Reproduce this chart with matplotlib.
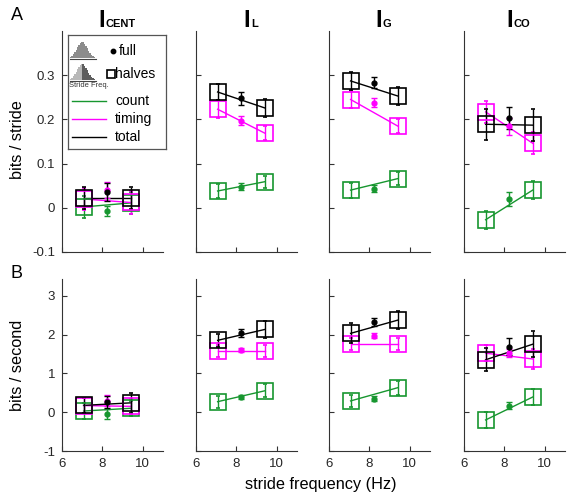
import matplotlib
matplotlib.use('Agg')
import matplotlib.pyplot as plt

plt.rcParams['font.family'] = ['Liberation Sans', 'DejaVu Sans']
plt.rcParams['axes.unicode_minus'] = False

# ---- data --------------------------------------------------------
panel_names = ['CENT', 'L', 'G', 'CO']
x_halves = [7.07, 9.4]
x_full = 8.22

# row A : bits / stride
stride_count_halves = [[0.002, 0.011], [0.038, 0.059], [0.040, 0.066], [-0.027, 0.040]]
stride_count_halves_err = [[0.025, 0.025], [0.015, 0.014], [0.017, 0.014], [0.020, 0.020]]
stride_count_full = [-0.007, 0.048, 0.043, 0.020]
stride_count_full_err = [0.012, 0.007, 0.008, 0.016]

stride_timing_halves = [[0.020, 0.012], [0.223, 0.169], [0.245, 0.185], [0.217, 0.146]]
stride_timing_halves_err = [[0.025, 0.025], [0.020, 0.016], [0.020, 0.016], [0.025, 0.025]]
stride_timing_full = [0.040, 0.197, 0.238, 0.184]
stride_timing_full_err = [0.018, 0.010, 0.010, 0.020]

stride_total_halves = [[0.023, 0.023], [0.262, 0.226], [0.287, 0.253], [0.189, 0.187]]
stride_total_halves_err = [[0.025, 0.025], [0.019, 0.020], [0.020, 0.020], [0.035, 0.036]]
stride_total_full = [0.035, 0.248, 0.283, 0.204]
stride_total_full_err = [0.020, 0.015, 0.012, 0.025]

# row B : bits / second
sec_count_halves = [[0.03, 0.10], [0.27, 0.55], [0.29, 0.63], [-0.20, 0.39]]
sec_count_halves_err = [[0.20, 0.20], [0.15, 0.17], [0.15, 0.18], [0.20, 0.20]]
sec_count_full = [-0.05, 0.40, 0.35, 0.17]
sec_count_full_err = [0.12, 0.05, 0.06, 0.10]

sec_timing_halves = [[0.17, 0.15], [1.58, 1.58], [1.75, 1.75], [1.52, 1.37]]
sec_timing_halves_err = [[0.20, 0.20], [0.15, 0.15], [0.15, 0.15], [0.20, 0.25]]
sec_timing_full = [0.30, 1.60, 1.97, 1.52]
sec_timing_full_err = [0.15, 0.06, 0.07, 0.10]

sec_total_halves = [[0.175, 0.24], [1.85, 2.13], [2.03, 2.37], [1.35, 1.75]]
sec_total_halves_err = [[0.20, 0.25], [0.16, 0.23], [0.26, 0.23], [0.30, 0.34]]
sec_total_full = [0.27, 2.04, 2.32, 1.69]
sec_total_full_err = [0.15, 0.10, 0.10, 0.23]

# icon histogram for the legend
hist_heights = [0.06, 0.12, 0.22, 0.36, 0.52, 0.68, 0.82, 0.93, 1.0, 0.98, 0.9, 0.76,
                0.6, 0.44, 0.3, 0.18, 0.1, 0.05]

col_count = '#17962f'
col_timing = '#ff00ff'
col_total = 'black'
spine_col = '#333333'

W, H = 573, 496
fig = plt.figure(figsize=(W / 100, H / 100), dpi=100)

col_left = [62, 196, 329, 464]
col_w = 101
rows = [(31, 252), (279, 451)]


def px_axes(x0, y0, x1, y1):
    return fig.add_axes([x0 / W, 1 - y1 / H, (x1 - x0) / W, (y1 - y0) / H])


def draw_series(ax, halves, halves_err, full, full_err, color):
    ax.plot(x_halves, halves, color=color, lw=1.0, zorder=2)
    ax.errorbar(x_halves, halves, yerr=halves_err, fmt='s', ms=12, mfc='none',
                mec=color, mew=1.2, ecolor=color, elinewidth=1.0, capsize=1.5, zorder=3)
    ax.errorbar([x_full], [full], yerr=[full_err], fmt='o', ms=3.5, color=color,
                elinewidth=1.0, capsize=2.5, zorder=3)


row_sets = [
    (stride_count_halves, stride_count_halves_err, stride_count_full, stride_count_full_err,
     stride_timing_halves, stride_timing_halves_err, stride_timing_full, stride_timing_full_err,
     stride_total_halves, stride_total_halves_err, stride_total_full, stride_total_full_err),
    (sec_count_halves, sec_count_halves_err, sec_count_full, sec_count_full_err,
     sec_timing_halves, sec_timing_halves_err, sec_timing_full, sec_timing_full_err,
     sec_total_halves, sec_total_halves_err, sec_total_full, sec_total_full_err),
]
ylims = [(-0.1, 0.4), (-1, 3.43)]
yticks = [[-0.1, 0, 0.1, 0.2, 0.3], [-1, 0, 1, 2, 3]]
ytick_labels = [['-0.1', '0', '0.1', '0.2', '0.3'], ['-1', '0', '1', '2', '3']]

for r, (y0, y1) in enumerate(rows):
    s = row_sets[r]
    for c in range(4):
        ax = px_axes(col_left[c], y0, col_left[c] + col_w, y1)
        draw_series(ax, s[0][c], s[1][c], s[2][c], s[3][c], col_count)
        draw_series(ax, s[4][c], s[5][c], s[6][c], s[7][c], col_timing)
        draw_series(ax, s[8][c], s[9][c], s[10][c], s[11][c], col_total)
        ax.set_xlim(6, 11)
        ax.set_ylim(*ylims[r])
        ax.set_xticks([6, 8, 10])
        ax.set_yticks(yticks[r])
        for side in ['top', 'right']:
            ax.spines[side].set_visible(False)
        for side in ['left', 'bottom']:
            ax.spines[side].set_color(spine_col)
            ax.spines[side].set_linewidth(0.8)
        ax.tick_params(direction='in', length=3.5, width=0.8, colors=spine_col,
                       labelsize=9.5, labelcolor='#262626', pad=5)
        if c == 0:
            ax.set_yticklabels(ytick_labels[r])
        else:
            ax.set_yticklabels([])
        if r == 0:
            ax.set_xticklabels([])
        else:
            ax.set_xticklabels(['6', '8', '10'])

# titles: big bold I with a small bold subscript, group centred a bit right of axes centre
renderer = fig.canvas.get_renderer()
for c in range(4):
    t_main = fig.text(0, 0, 'I', fontsize=17, fontweight='bold', va='baseline')
    t_sub = fig.text(0, 0, panel_names[c], fontsize=8, fontweight='bold', va='baseline')
    w_main = t_main.get_window_extent(renderer).width
    w_sub = t_sub.get_window_extent(renderer).width
    cx = col_left[c] + col_w / 2 + 4
    x_start = cx - (w_main + w_sub) / 2
    base = 1 - 27 / H
    t_main.set_position((x_start / W, base))
    t_sub.set_position(((x_start + w_main + 0.5) / W, base))

fig.text(18 / W, 1 - 140 / H, 'bits / stride', rotation=90, ha='center', va='center', fontsize=11.7)
fig.text(18 / W, 1 - 365 / H, 'bits / second', rotation=90, ha='center', va='center', fontsize=11.7)
fig.text(321 / W, 1 - 484 / H, 'stride frequency (Hz)', ha='center', va='center', fontsize=11.7)
fig.text(17 / W, 1 - 16 / H, 'A', ha='center', va='center', fontsize=13)
fig.text(16 / W, 1 - 273 / H, 'B', ha='center', va='center', fontsize=13)

# ---- legend box (drawn by hand) ----------------------------------
lg = px_axes(68, 35, 166, 149)
lg.set_xlim(68, 166)
lg.set_ylim(149, 35)
lg.set_xticks([])
lg.set_yticks([])
for sp in lg.spines.values():
    sp.set_color('#555555')
    sp.set_linewidth(0.9)
lg.set_zorder(5)

n = len(hist_heights)
bw = 25 / n
bx = [70 + i * bw for i in range(n)]
# icon 1: full distribution
lg.bar(bx, [-h * 16 for h in hist_heights], width=bw, bottom=58, align='edge', color='#8c8c8c', lw=0)
lg.plot([70, 96], [58.5, 58.5], color='#444444', lw=0.8)
# icon 2: split into two halves
half = n // 2
lg.bar(bx[:half], [-h * 16 for h in hist_heights[:half]], width=bw, bottom=80, align='edge', color='#b8b8b8', lw=0)
lg.bar(bx[half:], [-h * 16 for h in hist_heights[half:]], width=bw, bottom=80, align='edge', color='#5e5e5e', lw=0)
lg.plot([70, 96], [80.5, 80.5], color='#444444', lw=0.8)
lg.text(89, 85.5, 'Stride Freq.', fontsize=5.4, ha='center', va='center', color='#333333')

lg.plot([113], [51], 'o', color='black', ms=3.2)
lg.text(119, 51, 'full', fontsize=10, va='center')
lg.plot([111], [73.5], 's', mfc='none', mec='black', mew=1.2, ms=6)
lg.text(115.5, 74, 'halves', fontsize=10, va='center')

for yy, lab, col in [(101, 'count', col_count), (119, 'timing', col_timing), (137, 'total', col_total)]:
    lg.plot([72, 106], [yy, yy], color=col, lw=1.0)
    lg.text(115, yy, lab, fontsize=10, va='center')

fig.savefig('out.png', dpi=100)
